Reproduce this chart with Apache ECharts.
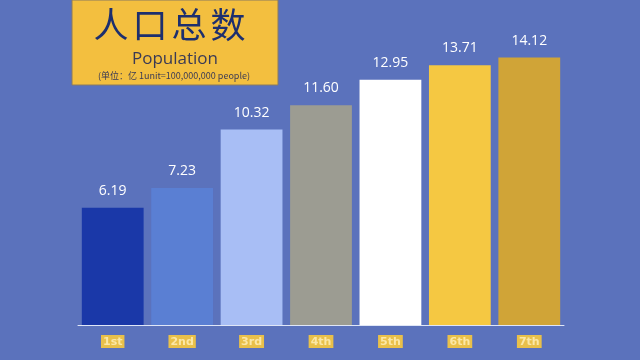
<!DOCTYPE html>
<html><head><meta charset="utf-8">
<script src="https://cdn.jsdelivr.net/npm/echarts@6/dist/echarts.min.js"></script>
<style>html,body{margin:0;padding:0;background:#5b72bc}#c{width:640px;height:360px}</style>
</head><body><div id="c"></div>
<script>
const categories = ['1st','2nd','3rd','4th','5th','6th','7th'];
const values = [6.19, 7.23, 10.32, 11.60, 12.95, 13.71, 14.12];
const barColors = ['#1a38a8','#5a7fd3','#a8bef5','#9c9c92','#ffffff','#f5c842','#d0a437'];
const titleCN = '人口总数';
const titleEN = 'Population';
const unitNote = '(单位：亿 1unit=100,000,000 people)';

const titleChars = titleCN.split('').map((ch, i) => ({
  type: 'text', x: 111 + i * 39, y: 25,
  style: {text: ch, fill: '#1d2f6e', font: '35px "Noto Sans CJK SC"',
    textAlign: 'center', textVerticalAlign: 'middle'}
}));

const chart = echarts.init(document.getElementById('c'));
chart.setOption({
  backgroundColor: '#5b72bc',
  animation: false,
  grid: {left: 78, right: 76, top: 22, bottom: 35},
  xAxis: {
    type: 'category', data: categories,
    axisLine: {lineStyle: {color: '#dfe6f7', width: 1}},
    axisTick: {show: false},
    axisLabel: {
      margin: 10, color: '#fbe7a6', fontSize: 11, fontWeight: 'bold',
      fontFamily: 'DejaVu Sans',
      backgroundColor: '#e9c04a', padding: [2, 2, 0, 2]
    }
  },
  yAxis: {type: 'value', min: 0, max: 16, show: false, splitLine: {show: false}},
  series: [{
    type: 'bar', barWidth: '89%',
    data: values.map((v, i) => ({value: v, itemStyle: {color: barColors[i]}})),
    label: {
      show: true, position: 'top', distance: 10,
      formatter: p => p.value.toFixed(2),
      color: '#ffffff', fontSize: 14, fontFamily: 'Open Sans'
    }
  }],
  graphic: [
    {type: 'rect', shape: {x: 72, y: 0, width: 206, height: 85},
     style: {fill: '#f3bf3f', stroke: '#8a7a60', lineWidth: 1}}
  ].concat(titleChars, [
    {type: 'text', x: 175, y: 59, style: {text: titleEN, fill: '#3a3a55',
      font: '17px "Open Sans"', textAlign: 'center', textVerticalAlign: 'middle'}},
    {type: 'text', x: 174, y: 76, style: {text: unitNote, fill: '#3a3a55',
      font: '9px "Noto Sans CJK SC"', textAlign: 'center', textVerticalAlign: 'middle'}}
  ])
});
</script></body></html>
